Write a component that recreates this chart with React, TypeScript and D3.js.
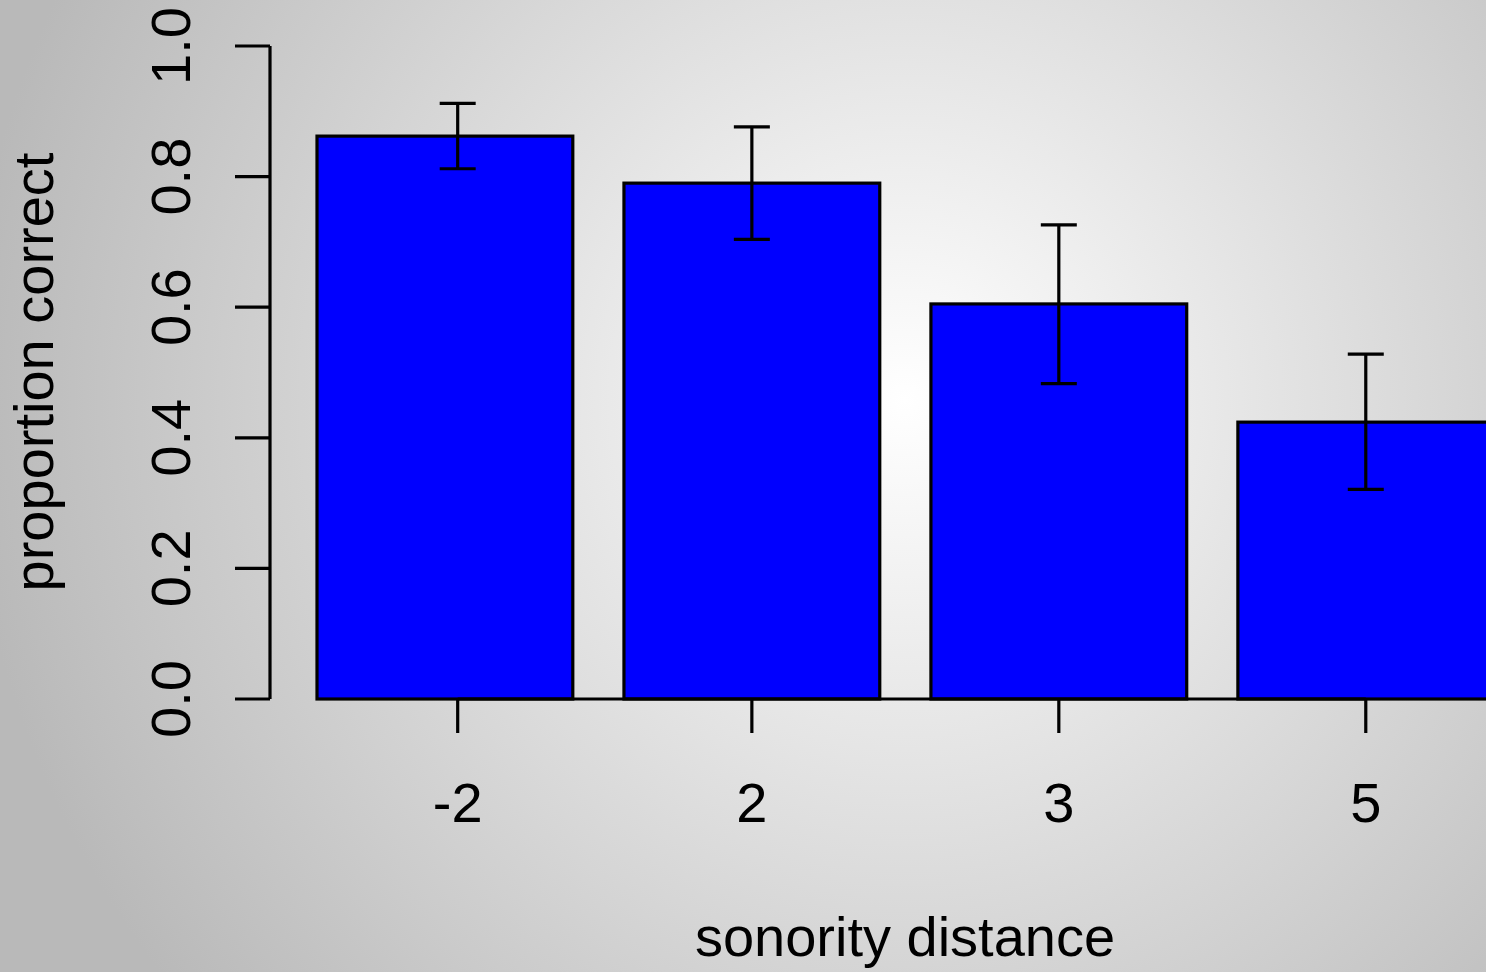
import React from "react";
import * as d3 from "d3";

const categories = ["-2", "2", "3", "5"];
const barCenters = [0.7, 1.9, 3.1, 4.3];
const tickPositions = [0.75, 1.9, 3.1, 4.3];
const means = [0.862, 0.79, 0.605, 0.424];
const upper = [0.912, 0.876, 0.726, 0.528];
const lower = [0.812, 0.704, 0.483, 0.321];
const yTicks = [0, 0.2, 0.4, 0.6, 0.8, 1.0];

const W = 1486;
const H = 972;
const FONT = "'Liberation Sans', Arial, Helvetica, sans-serif";

export default function App() {
  const x = d3.scaleLinear().domain([0.2, 4.8]).range([317, 317 + 4.6 * 255.8]);
  const y = d3.scaleLinear().domain([0, 1]).range([699, 46]);
  const fmt = d3.format(".1f");
  const cap = 18;
  const lw = 3.2;

  return (
    <svg
      width={W}
      height={H}
      style={{ position: "absolute", left: 0, top: 0, display: "block" }}
      fontFamily={FONT}
    >
      <defs>
        <radialGradient id="bg" gradientUnits="userSpaceOnUse" cx={905} cy={400} r={940}>
          <stop offset="0" stopColor="#ffffff" />
          <stop offset="1" stopColor="#b9b9b9" />
        </radialGradient>
      </defs>
      <rect x={0} y={0} width={W} height={H} fill="url(#bg)" />

      {means.map((m, i) => (
        <rect
          key={"b" + i}
          x={x(barCenters[i] - 0.5)}
          y={y(m)}
          width={x(barCenters[i] + 0.5) - x(barCenters[i] - 0.5)}
          height={y(0) - y(m)}
          fill="#0000ff"
          stroke="#000"
          strokeWidth={lw}
        />
      ))}

      <line x1={x(tickPositions[0])} x2={x(tickPositions[tickPositions.length - 1])} y1={y(0)} y2={y(0)} stroke="#000" strokeWidth={lw} />
      {tickPositions.map((t, i) => (
        <g key={"xt" + i}>
          <line x1={x(t)} x2={x(t)} y1={y(0)} y2={y(0) + 34} stroke="#000" strokeWidth={lw} />
          <text x={x(t)} y={822} fontSize={56} textAnchor="middle" fill="#000">
            {categories[i]}
          </text>
        </g>
      ))}

      {tickPositions.map((t, i) => (
        <g key={"e" + i} stroke="#000" strokeWidth={lw}>
          <line x1={x(t)} x2={x(t)} y1={y(upper[i])} y2={y(lower[i])} />
          <line x1={x(t) - cap} x2={x(t) + cap} y1={y(upper[i])} y2={y(upper[i])} />
          <line x1={x(t) - cap} x2={x(t) + cap} y1={y(lower[i])} y2={y(lower[i])} />
        </g>
      ))}

      <line x1={270} x2={270} y1={y(0)} y2={y(1)} stroke="#000" strokeWidth={lw} />
      {yTicks.map((t, i) => (
        <g key={"yt" + i}>
          <line x1={235} x2={270} y1={y(t)} y2={y(t)} stroke="#000" strokeWidth={lw} />
          <text
            transform={`translate(190,${y(t)}) rotate(-90)`}
            fontSize={56}
            textAnchor="middle"
            fill="#000"
          >
            {fmt(t)}
          </text>
        </g>
      ))}

      <text transform={`translate(53,372) rotate(-90)`} fontSize={56} textAnchor="middle" fill="#000">
        proportion correct
      </text>
      <text x={905} y={956} fontSize={56} textAnchor="middle" fill="#000">
        sonority distance
      </text>
    </svg>
  );
}
